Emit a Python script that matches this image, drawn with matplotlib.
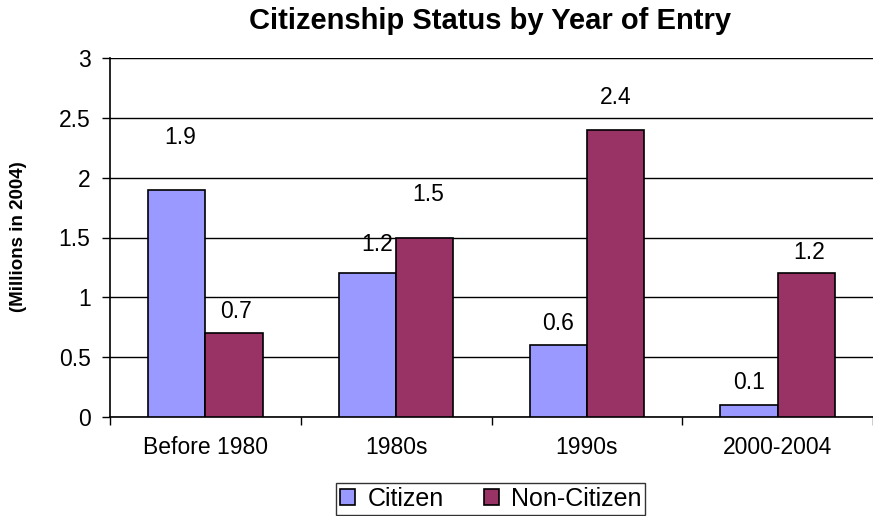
import numpy as np
import matplotlib.pyplot as plt

# data
categories = ['Before 1980', '1980s', '1990s', '2000-2004']
citizen = [1.9, 1.2, 0.6, 0.1]
non_citizen = [0.7, 1.5, 2.4, 1.2]

# label offsets above bar tops, in pixels (Excel placed them unevenly)
citizen_lbl_off = [(3, 52), (10, 29), (0, 22), (0, 23)]
non_citizen_lbl_off = [(2, 22), (3, 43), (0, 32), (3, 21)]

plt.rcParams['font.family'] = ['Liberation Sans', 'DejaVu Sans']

fig = plt.figure(figsize=(8.73, 5.16), dpi=100)
ax = fig.add_axes([110 / 873, 99 / 516, 763 / 873, 359 / 516])

x = np.arange(len(categories))
w = 0.3
b1 = ax.bar(x - w / 2, citizen, w, color='#9999ff', edgecolor='black', linewidth=1.2,
            label='Citizen', zorder=3)
b2 = ax.bar(x + w / 2, non_citizen, w, color='#993366', edgecolor='black', linewidth=1.2,
            label='Non-Citizen', zorder=3)

for bars, vals, offs in [(b1, citizen, citizen_lbl_off), (b2, non_citizen, non_citizen_lbl_off)]:
    for r, v, o in zip(bars, vals, offs):
        ax.annotate(f'{v:g}', (r.get_x() + r.get_width() / 2, r.get_height()),
                    xytext=o, textcoords='offset pixels', ha='center', va='center',
                    fontsize=16.5)

ax.set_xlim(-0.5, len(categories) - 0.5)
ax.set_ylim(0, 3)
ax.set_yticks(np.arange(0, 3.01, 0.5))
ax.set_yticklabels(['0', '0.5', '1', '1.5', '2', '2.5', '3'], fontsize=16.5)
ax.set_xticks(x)
ax.set_xticklabels(categories, fontsize=16.5)
ax.set_xticks(np.arange(-0.5, len(categories)), minor=True)
ax.tick_params(axis='x', which='major', length=0, pad=14)
ax.tick_params(axis='x', which='minor', length=6, width=1, direction='out')
ax.tick_params(axis='y', length=6, width=1, direction='out', pad=8)

ax.grid(axis='y', color='black', linewidth=1, zorder=0)
for s in ['top', 'right']:
    ax.spines[s].set_visible(False)
ax.spines['left'].set_linewidth(1.2)
ax.spines['bottom'].set_linewidth(1.2)
ax.axhline(3, color='gray', linewidth=1.5, zorder=1)

fig.text(19 / 873, 1 - 237 / 516, '(Millions in 2004)', rotation=90,
         ha='center', va='center', fontsize=13.5, fontweight='bold')
fig.text(490 / 873, 1 - 21 / 516, 'Citizenship Status by Year of Entry',
         ha='center', va='center', fontsize=21, fontweight='bold')

leg = ax.legend(loc='upper center', bbox_to_anchor=(0.499, -0.184), borderaxespad=0,
                ncol=2, fontsize=18, frameon=True, fancybox=False, edgecolor='black',
                handlelength=0.6, handleheight=0.6, handletextpad=0.5,
                columnspacing=1.6, borderpad=0.15)
leg.get_frame().set_linewidth(1)

fig.savefig('out.png', dpi=100)
